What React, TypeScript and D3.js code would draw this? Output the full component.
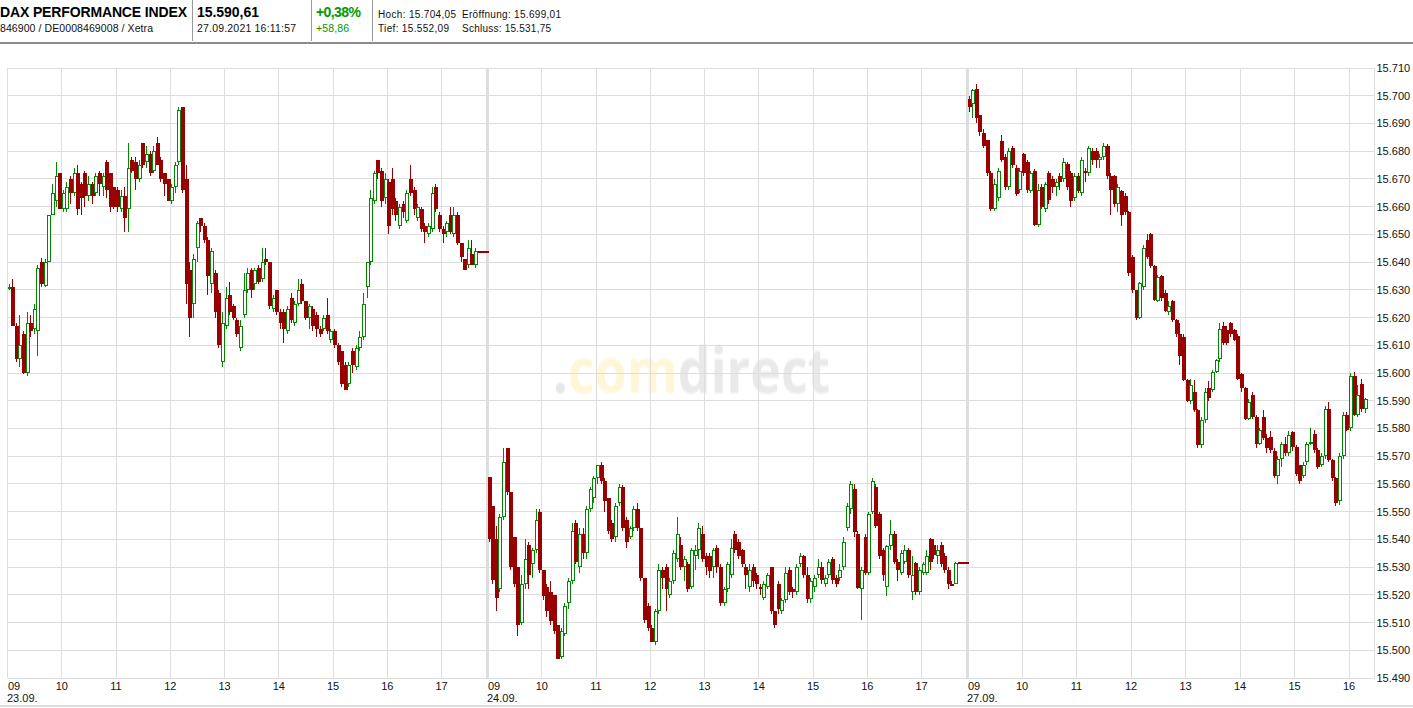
import React from "react";
import * as d3 from "d3";

const W = 1413;
const H = 708;

// Each candle is [open, high, low, close]; candles are four minutes apart from 09:00.
const day1Candles = [
[15630.5,15632,15630,15631],[15631,15634,15617,15617],[15617,15618,15604,15605],[15605,15621,15602,15610],[15614,15615,15599.5,15600],
[15600,15622,15599,15618],[15618,15621,15613,15615],[15616,15625,15614,15623],[15615,15639,15606,15638],[15640,15641.5,15631,15632],
[15631.5,15641,15631,15640],[15640,15657,15640,15657],[15657,15668,15657,15665],[15662,15676,15660,15671],[15672,15672,15659,15659],
[15659,15666,15658,15665],[15659,15669,15658,15667],[15670,15671,15661,15665],[15665,15674,15664,15672],[15672,15675,15657,15659],
[15668,15669,15657,15663],[15672,15673,15660,15664],[15664,15671,15662,15668],[15668,15669,15661,15664],[15665,15672,15664,15671],
[15672,15673,15664,15668],[15667,15672,15664,15671],[15676,15677,15663,15666],[15672,15672,15658,15660],[15667,15667,15659,15660],
[15666,15667,15658,15660],[15659,15666,15658,15664],[15664,15667,15651,15656],[15659,15683,15651,15674],[15677,15678,15672,15673],
[15676,15678,15666,15670],[15670,15677,15669,15675],[15683,15683,15674,15675],[15676,15682,15674,15679],[15679,15680,15671,15672],
[15673,15682,15672,15680],[15683,15685,15675,15675],[15677,15678,15669,15670],[15672,15672,15664,15668],[15670,15670,15662,15662],
[15662,15668,15661,15667],[15667,15676,15665,15675],[15676,15696,15675,15695],[15696,15696,15665,15666],[15670,15675,15625,15632],
[15637,15640,15613,15620],[15625,15643,15620,15641],[15645,15655,15640,15654],[15656,15656,15651,15653],[15653,15654,15647,15648],
[15648,15649,15628,15635],[15632,15645,15629,15644],[15636,15637,15620,15622],[15629,15630,15609,15610],[15604,15622,15602,15618],
[15617,15631,15616,15627],[15628,15633,15621,15622],[15624,15625,15619,15620],[15619,15620,15613,15614],[15609,15619,15608,15617],
[15621,15636,15620,15630],[15630,15638,15629,15636],[15637,15638,15627,15630],[15632,15638,15630,15637],[15638,15639,15632,15633],
[15634,15645,15633,15640],[15641,15645,15639,15640],[15640,15640,15623,15624],[15623,15628,15622,15627],[15630,15630,15621,15622],
[15622,15623,15616,15618],[15622,15623,15611,15616],[15615,15624,15614,15623],[15627,15629,15618,15619],[15618,15626,15617,15625],
[15625,15634,15624,15630],[15632,15634,15625,15626],[15626,15626,15619,15620],[15620,15625,15616,15624],[15623,15624,15615,15617],
[15621,15622,15613,15616],[15616,15617,15613,15614],[15616,15621,15615,15620],[15621,15627,15614,15615],[15612,15616,15611,15615],
[15615,15616,15609,15610],[15610,15611,15603,15604],[15608,15608,15595,15596],[15603,15604,15594,15594],[15596,15604,15595,15603],
[15608,15609,15600,15603],[15602,15610,15601,15609],[15609,15615,15608,15613],[15613,15629,15612,15625],[15631,15640,15627,15640],
[15640,15666,15639,15663],[15662,15673,15661,15672],[15677,15677,15670,15672],[15673,15674,15660,15662],[15663,15672,15661,15670],
[15669,15670,15650,15653],[15670,15674,15657,15659],[15662,15663,15655,15657],[15653,15661,15652,15660],[15661,15662,15656,15658],
[15655,15666,15654,15665],[15670,15675,15664,15665],[15666,15667,15657,15659],[15656,15661,15655,15660],[15659,15660,15651,15652],
[15653,15654,15647,15651],[15650,15654,15649,15653],[15652,15667,15651,15665],[15667,15668,15658,15659],[15657,15658,15651,15652],
[15652,15653,15647,15650],[15651,15655,15649,15654],[15657,15660,15650,15651],[15650,15660,15649,15657],[15657,15658,15646,15647],
[15647,15647,15640,15642],[15641,15641,15637,15637],[15639,15648,15638,15645],[15643,15648,15639,15639],[15639,15645,15638,15644],
[15644,15644,15644,15644],[15644,15644,15644,15644],[15644,15644,15644,15644],
];

const day2Candles = [
[15562.5,15562.5,15539,15540],[15552,15552,15524,15525.5],[15540,15545,15514,15519],[15522,15549,15521,15548],[15548,15573,15547,15568],
[15573,15573,15556,15557],[15557,15557,15529,15530],[15541,15541,15523,15524],[15530,15530,15505,15509],[15510,15527,15509,15524],
[15524,15540,15522,15533],[15538,15539,15522,15527],[15531,15537,15526,15536],[15536,15551,15535,15547],[15550,15551,15528,15529],
[15529,15529,15518,15519.5],[15523,15524,15512,15514],[15521,15525,15509,15510.5],[15520,15520,15506,15507],[15509,15509,15497,15497],
[15497.5,15508,15497,15507],[15506,15517,15505,15516],[15517,15526,15515,15525],[15525,15546,15524,15543],[15546,15547,15531,15532],
[15530,15544,15528,15542],[15542,15544,15533,15535],[15535,15552,15533,15551],[15551,15559,15550,15558],[15555,15563,15553,15562],
[15562,15567,15560,15567],[15567,15568,15560,15561],[15561,15562,15550,15554],[15555,15555,15542,15543],[15546,15547,15539,15540],
[15541,15553,15539,15552],[15553,15560,15552,15559],[15559,15559.5,15543,15544],[15547,15548,15537,15539],[15541,15545,15540,15544],
[15544,15552,15543,15551],[15551,15553,15543,15544],[15544,15544,15525,15526],[15526,15526,15510,15511],[15516,15517,15507,15508],
[15508,15509,15503,15503],[15503,15515,15502,15514],[15514,15531,15513,15529],[15529,15530,15522,15526],[15530,15531,15514,15522],
[15520,15526,15519,15525],[15525,15536,15524,15535],[15533,15548,15532,15542],[15538,15541,15529,15530],[15530,15534,15525,15533],
[15531,15532,15521,15522],[15523,15537,15522,15536],[15534,15538,15529,15536],[15536,15546,15533,15544],[15542,15545,15532,15533],
[15534,15535,15527,15530],[15534,15535,15526,15528.5],[15530,15537,15526,15536],[15537,15538,15528,15530],[15530,15531,15516,15517],
[15517,15523,15516,15522],[15522,15532,15521,15531],[15527,15540,15526,15537],[15542,15543,15535,15536],[15539,15540,15533,15534],
[15536,15536.5,15530,15531],[15530,15531,15522,15527],[15523,15531,15521,15529],[15530,15531,15523,15525],[15527,15528,15522,15524],
[15523,15524,15520,15522],[15519,15525,15518,15524],[15523,15528,15522,15527],[15530,15530,15513,15514],[15514,15514,15508,15509],
[15524,15525,15513,15515],[15514,15519,15513,15518],[15518,15530,15517,15528],[15529,15530,15520,15521],[15522,15523,15519,15521],
[15521,15531,15520,15530],[15531,15535,15530,15534],[15534,15534.5,15526,15527],[15527,15530,15517,15518.5],[15518.5,15526,15517,15525],
[15523,15527,15521,15526],[15527,15533,15526,15530],[15530,15532,15524,15525.5],[15524,15527,15523,15526],[15527,15533,15526,15532],
[15533,15533.5,15524,15525.5],[15526,15527,15523,15524],[15526,15531,15525,15529],[15530,15541,15529,15539],[15544,15553,15543,15552],
[15551,15561,15549,15560],[15558,15560,15541,15542.5],[15542,15543,15522,15522.5],[15522,15530,15511,15529],[15541,15542,15527,15528],
[15528,15550,15527,15549],[15550,15562,15549,15561],[15559,15560,15544,15545],[15549,15550,15533,15534],[15536,15537,15525,15527],
[15523,15538,15519.5,15537.5],[15537.5,15547,15536,15542],[15542,15543,15531,15532],[15532,15533,15525,15529],[15528,15536,15527,15535],
[15532,15538,15531,15536],[15536,15537,15526,15527],[15521,15534,15518,15527],[15531.5,15532,15520,15521],[15521,15530,15520,15529],
[15528,15532,15527,15531],[15528,15536,15527,15534],[15540,15540.5,15529,15532],[15538,15540,15533,15534.5],[15534,15538,15531,15536],
[15538,15539,15530,15531],[15534,15535,15528,15529],[15529,15530,15522,15524],[15524,15525,15524,15524],[15524,15532,15524,15531.5],
[15532,15532,15532,15532],[15532,15532,15532,15532],[15532,15532,15532,15532],
];

const day3Candles = [
[15699,15700,15694,15696],[15697,15702.5,15692,15702],[15702.5,15704.4,15690,15692],[15693,15693,15685.5,15687],[15686.6,15688,15681,15682],
[15684,15684,15671,15672],[15672,15673,15658.5,15659],[15659,15670,15658.5,15668],[15663,15674,15662,15673],[15683.5,15686,15676,15677],
[15678,15679,15666,15667],[15667,15681,15666,15680],[15681,15682,15674,15675],[15674,15675,15664,15664.5],[15666,15674,15665,15673],
[15679,15679.5,15671,15672],[15676,15677,15665,15666],[15665.5,15673,15665,15672],[15673,15673.5,15653,15653.5],[15653.5,15668,15652.5,15666],
[15667,15668,15659,15660],[15659,15669,15658,15668],[15672,15673,15661,15662.5],[15670,15671,15665,15667],[15667,15670,15664,15669],
[15671,15672,15666,15669],[15670,15677.5,15669,15676],[15675.5,15676,15666,15667],[15672,15673,15660,15662],[15663,15672,15662,15671],
[15671,15672,15665,15665.5],[15665,15678,15664,15677],[15673,15674,15669,15672],[15672,15682,15671,15681],[15680,15681,15675,15677],
[15680,15681,15674,15677],[15677,15679,15674,15678],[15678,15683,15677,15682],[15682,15682.5,15670,15671],[15671,15672,15657,15666],
[15671,15671.5,15660,15661],[15661,15668,15658,15667],[15665.5,15666,15653,15657],[15664,15665,15657,15658],[15658,15658.5,15635,15636],
[15642,15642.5,15629,15630],[15630,15630,15619,15620],[15620,15633,15619.5,15632.5],[15631,15646,15630,15645],[15648,15650,15641,15642],
[15650,15650.5,15638,15638.5],[15638.5,15639,15626,15626.5],[15626,15635.5,15625.5,15634.5],[15635,15635.5,15626,15627],[15629,15630,15622,15622.5],
[15622,15626,15621,15624],[15626,15626.5,15618.5,15619],[15619,15619.5,15613,15614],[15614,15618,15603,15606],[15613,15614,15597,15597.5],
[15597.5,15598,15589.5,15590],[15590,15598,15589,15595.5],[15593,15597.5,15586,15586.6],[15586.6,15587,15573,15574],[15574,15584,15573,15583],
[15583,15594.5,15582,15593],[15594.7,15597,15590,15591],[15594,15601,15593,15600.4],[15600.4,15605,15600,15604.6],[15605,15618,15604,15616],
[15617,15618.5,15610,15611],[15615.5,15617,15610,15611],[15618,15618.5,15613,15614],[15615.5,15616,15611.5,15612],[15613.5,15614,15597.5,15598],
[15599.5,15600,15593,15594.5],[15594.5,15595,15583,15583.5],[15583.5,15590.5,15583,15589.5],[15592,15593,15583.5,15584.2],[15584.2,15585,15573,15574.5],
[15574.5,15580,15574,15579.4],[15584,15586.5,15576,15576.4],[15576.4,15578,15571,15572.8],[15577,15579,15571,15572.2],[15572,15573,15562,15563],
[15563,15570,15560,15569],[15569,15575,15566,15574.5],[15574.5,15577,15570,15571],[15571,15579,15570,15577.6],[15578.8,15579,15572,15573.4],
[15573.4,15574,15563,15563.7],[15566.8,15567,15560,15561],[15563,15568,15562,15566.8],[15568,15575,15567,15574.5],[15574.5,15580,15574,15575],
[15578,15579.5,15571,15572.2],[15572.2,15573,15565.5,15566],[15566.8,15571,15566,15570],[15570,15588,15569,15587],[15587,15589.5,15568,15568.5],
[15568.5,15569,15561,15562],[15562,15562.5,15552,15553],[15554,15571,15552.5,15570],[15570,15586,15569,15585],[15585,15586,15579,15579.5],
[15580,15600,15579,15599],[15599,15600.5,15584.5,15585],[15585,15595.5,15584,15592],[15596,15598,15586,15587],[15587,15591,15585.5,15590.6],
];

const minutesPerCandle = 4;
const sessions = [
  { label: "23.09.", candles: day1Candles, hours: [9, 10, 11, 12, 13, 14, 15, 16, 17], left: 7.5, last: 441.5 },
  { label: "24.09.", candles: day2Candles, hours: [9, 10, 11, 12, 13, 14, 15, 16, 17], left: 487.5, last: 921.5 },
  { label: "27.09.", candles: day3Candles, hours: [9, 10, 11, 12, 13, 14, 15, 16], left: 967.5, last: 1349 },
];

const priceTicks = d3.range(15490, 15711, 10);
const fmtPrice = (v: number) => `${Math.floor(v / 1000)}.${String(v % 1000).padStart(3, "0")}`;

const plotTop = 68;
const plotBottom = 678;
const plotLeft = 7.5;
const plotRight = 1374.5;
const yScale = d3.scaleLinear().domain([15490, 15710]).range([plotBottom, plotTop]);
const snap = (v: number) => Math.round(v - 0.5) + 0.5;

const GREEN = "#008800";
const RED = "#990000";
const GRID = "#dddddd";
const FONT = "'Liberation Sans', Arial, sans-serif";

const headerLeft = [
  { t: "DAX PERFORMANCE INDEX", x: 0, y: 17, s: 14, b: true, c: "#000", w: 187 },
  { t: "846900 / DE0008469008 / Xetra", x: 0, y: 32, s: 10.5, b: false, c: "#111", w: 153 },
  { t: "15.590,61", x: 197, y: 17, s: 14, b: true, c: "#000", w: 62 },
  { t: "27.09.2021 16:11:57", x: 197, y: 32, s: 10.5, b: false, c: "#111", w: 99 },
  { t: "+0,38%", x: 316, y: 17, s: 14, b: true, c: "#009900", w: 45 },
  { t: "+58,86", x: 316, y: 32, s: 10.5, b: false, c: "#009900", w: 33 },
  { t: "Hoch: 15.704,05", x: 378, y: 17.5, s: 10, b: false, c: "#111", w: 78 },
  { t: "Eröffnung: 15.699,01", x: 462, y: 17.5, s: 10, b: false, c: "#111", w: 99 },
  { t: "Tief: 15.552,09", x: 378, y: 32, s: 10, b: false, c: "#111", w: 71 },
  { t: "Schluss: 15.531,75", x: 462, y: 32, s: 10, b: false, c: "#111", w: 89 },
];
const headerRules = [192.5, 311.5, 372.5];

function Candles({ session }: { session: (typeof sessions)[number] }) {
  const lastHour = session.hours[session.hours.length - 1];
  const x = d3.scaleLinear().domain([9, lastHour]).range([session.left, session.last]);
  return (
    <g shapeRendering="crispEdges">
      {session.candles.map(([o, h, l, c], i) => {
        const t = 9 + (i * minutesPerCandle) / 60;
        const xc = Math.round(x(t)) + 1;
        const up = c > o;
        const col = up ? GREEN : RED;
        const top = Math.round(yScale(Math.max(o, c)));
        const bot = Math.round(yScale(Math.min(o, c)));
        return (
          <g key={i}>
            <line x1={xc + 0.5} x2={xc + 0.5} y1={yScale(h)} y2={yScale(l)} stroke={col} strokeWidth={1} />
            {up ? (
              <rect x={xc - 0.5} y={top + 0.5} width={3} height={Math.max(bot - top - 1, 1)} fill="#fff" stroke={col} strokeWidth={1} />
            ) : (
              <rect x={xc - 1} y={top} width={4} height={Math.max(bot - top, 2)} fill={col} />
            )}
          </g>
        );
      })}
    </g>
  );
}

export default function App() {
  return (
    <svg width={W} height={H} viewBox={`0 0 ${W} ${H}`} style={{ position: "absolute", left: 0, top: 0, display: "block", background: "#fff" }}>
      <defs>
        <filter id="soft" x="-5%" y="-5%" width="110%" height="110%">
          <feGaussianBlur stdDeviation="0.7" />
        </filter>
      </defs>

      {/* header */}
      {headerRules.map((x) => (
        <line key={x} x1={x} x2={x} y1={0} y2={41} stroke="#999" />
      ))}
      <rect x={0} y={42} width={W} height={2} fill="#8c8c8c" />
      {headerLeft.map((d) => (
        <text key={d.t} x={d.x} y={d.y} fontFamily={FONT} fontSize={d.s} fontWeight={d.b ? 700 : 400} fill={d.c} textLength={d.w} lengthAdjust="spacing">
          {d.t}
        </text>
      ))}

      {/* watermark */}
      <g filter="url(#soft)" transform="translate(553 393) scale(1 1.2)">
        <text x={0} y={0} fontFamily="'Open Sans', sans-serif" fontWeight={700} fontSize={52}>
          <tspan fill="#e6e6e6">.</tspan><tspan fill="#fff6d8">com</tspan><tspan fill="#e9e9e9">direct</tspan>
        </text>
      </g>

      {/* grid */}
      <g stroke={GRID} shapeRendering="crispEdges">
        {priceTicks.map((p) => (
          <line key={p} x1={plotLeft} x2={plotRight} y1={snap(yScale(p))} y2={snap(yScale(p))} />
        ))}
        <line x1={plotRight} x2={plotRight} y1={plotTop} y2={plotBottom} />
        {sessions.map((s) => {
          const lastHour = s.hours[s.hours.length - 1];
          const x = d3.scaleLinear().domain([9, lastHour]).range([s.left, s.last]);
          return s.hours.map((h) =>
            h === 9 && s.left > plotLeft ? (
              <rect key={`${s.label}${h}`} x={s.left - 1.5} y={plotTop} width={3} height={plotBottom - plotTop} fill={GRID} stroke="none" />
            ) : (
              <line key={`${s.label}${h}`} x1={snap(x(h))} x2={snap(x(h))} y1={plotTop} y2={plotBottom} />
            )
          );
        })}
      </g>

      {/* candles */}
      {sessions.map((s) => (
        <Candles key={s.label} session={s} />
      ))}

      {/* axes */}
      <g fontFamily={FONT} fontSize={11} fill="#111">
        {priceTicks.map((p) => (
          <text key={p} x={1376.5} y={yScale(p) + 4}>{fmtPrice(p)}</text>
        ))}
        {sessions.map((s) => {
          const lastHour = s.hours[s.hours.length - 1];
          const x = d3.scaleLinear().domain([9, lastHour]).range([s.left, s.last]);
          return (
            <g key={s.label}>
              {s.hours.map((h) => (
                <text key={h} x={h === 9 ? x(h) + 0.5 : x(h)} y={690} textAnchor={h === 9 ? "start" : "middle"}>
                  {String(h).padStart(2, "0")}
                </text>
              ))}
              <text x={s.left - 0.5} y={702}>{s.label}</text>
            </g>
          );
        })}
      </g>

      <rect x={0} y={705} width={W} height={2} fill="#dddddd" />
    </svg>
  );
}
